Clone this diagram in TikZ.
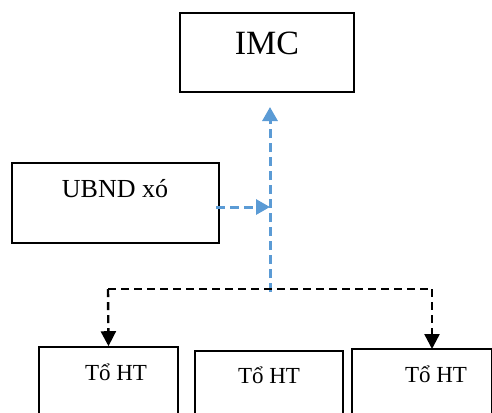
\documentclass[tikz,border=0pt]{standalone}
\usepackage{fontspec}
\setmainfont{Liberation Serif}
\usetikzlibrary{arrows.meta}
\definecolor{wordblue}{RGB}{91,155,213}
\begin{document}
\begin{tikzpicture}[x=1bp,y=-1bp,
  boxst/.style={draw=black,line width=1.6bp,rectangle,inner sep=0pt},
  txt/.style={inner sep=0pt,anchor=base},
  bluearr/.style={draw=wordblue,line width=3bp,dash pattern=on 9bp off 5bp,-{Triangle[length=14bp,width=15bp]}},
  blkline/.style={draw=black,line width=2.4bp,dash pattern=on 8bp off 5bp},
  blkarr/.style={blkline,-{Triangle[length=15bp,width=15bp]}}]
\useasboundingbox (0,0) rectangle (492,412);
% boxes
\node[boxst,minimum width=174bp,minimum height=79bp] (imc) at (267,52.5) {};
\node[boxst,minimum width=207bp,minimum height=80bp] (ubnd) at (115.5,203) {};
\node[boxst,minimum width=139bp,minimum height=80bp] (b1) at (108.5,387) {};
\node[boxst,minimum width=148bp,minimum height=76bp] (b2) at (269,389) {};
\node[boxst,minimum width=140bp,minimum height=78bp] (b3) at (422,388) {};
% texts
\node[txt,font=\fontsize{34bp}{36bp}\selectfont] (timc) at (267,54) {IMC};
\node[txt,font=\fontsize{26bp}{28bp}\selectfont] (tubnd) at (115,197) {UBND xó};
\node[txt,font=\fontsize{23bp}{25bp}\selectfont] (t1) at (116,380) {Tổ HT};
\node[txt,font=\fontsize{23bp}{25bp}\selectfont] (t2) at (269,383) {Tổ HT};
\node[txt,font=\fontsize{23bp}{25bp}\selectfont] (t3) at (436,382) {Tổ HT};
% coordinates
\coordinate (jb) at (270,292);
\coordinate (tipimc) at (270,107);
\coordinate (ustart) at (216,207);
\coordinate (ujoin) at (270,207);
\coordinate (busL) at (108,289);
\coordinate (busR) at (432,289);
\coordinate (tip3) at (432,349);
% connectors
\draw[bluearr] (jb) -- (tipimc);
\draw[bluearr] (ustart) -- (ujoin);
\draw[blkline] (busL) -- (busR);
\draw[blkarr] (busL) -- (b1.north);
\draw[blkarr] (busR) -- (tip3);
\end{tikzpicture}
\end{document}
